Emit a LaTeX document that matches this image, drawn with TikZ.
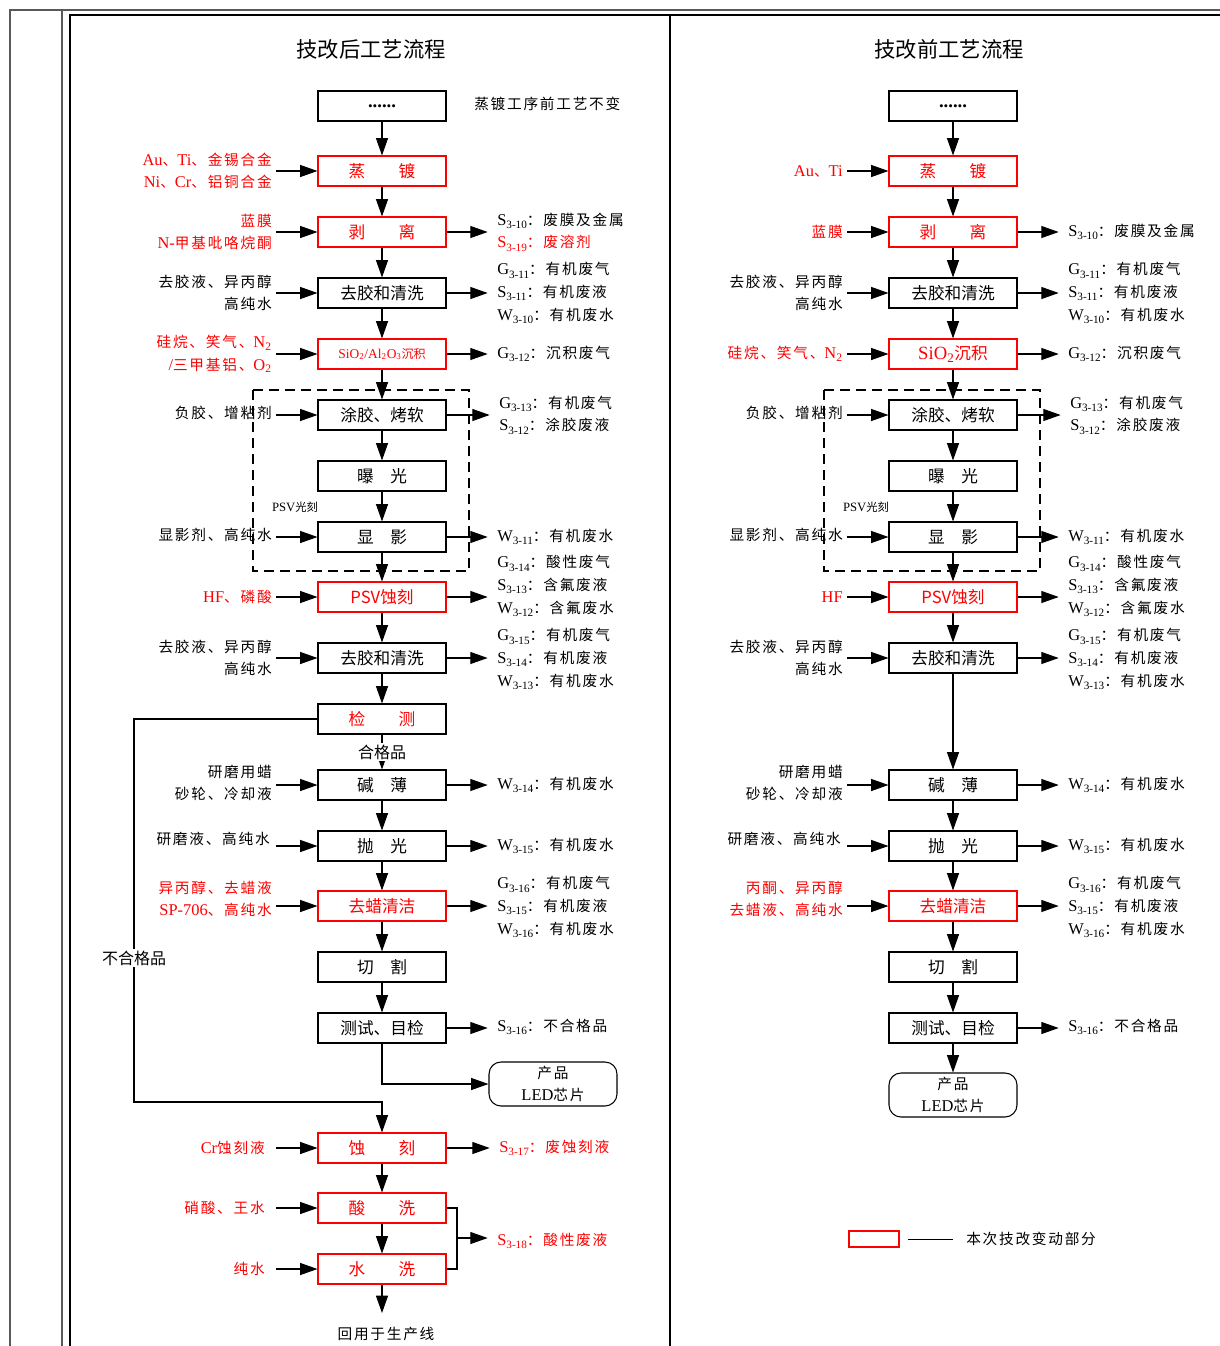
\documentclass[tikz,border=0pt]{standalone}
\usepackage{fontspec}
\setmainfont{Noto Sans CJK SC}
\newfontfamily\lblfont[LetterSpace=12]{Noto Sans CJK SC}
\newfontfamily\tmfont[Scale=1.12]{Liberation Serif}
\usetikzlibrary{arrows.meta}
\newcommand\tm[1]{{\tmfont #1}}
\newcommand\sbx[2]{{\tmfont #1\raisebox{-0.45ex}{\fontsize{7.5}{8}\selectfont #2}}}
\tikzset{
 box/.style={draw, line width=0.8pt, minimum width=96pt, minimum height=22.5pt, inner sep=0pt, font=\fontsize{12.5}{14}\selectfont},
 rbox/.style={box, draw=red, text=red},
 lab/.style={font=\lblfont\fontsize{11}{17}\selectfont, inner sep=0pt, align=right, anchor=east},
 olab/.style={font=\lblfont\fontsize{11}{17}\selectfont, inner sep=0pt, align=left, anchor=west},
 arr/.style={-{Triangle[length=13pt,width=9pt]}, line width=0.8pt},
 ttl/.style={font=\fontsize{16}{18}\selectfont},
 small/.style={font=\fontsize{8.5}{10}\selectfont, inner sep=0pt},
 dbox/.style={dashed, dash pattern=on 7.5pt off 4.5pt, line width=0.8pt},
 prod/.style={draw, rounded corners=9pt, line width=0.8pt, minimum width=96pt, minimum height=33pt, inner sep=0pt, align=center, font=\lblfont\fontsize{11}{17}\selectfont},
}
\begin{document}
\begin{tikzpicture}[x=0.75pt,y=-0.75pt]
\useasboundingbox (0,0) rectangle (1220,1346);
% frame
\draw[line width=1.1pt, gray!70!black] (10,1346) -- (10,10) -- (1220,10);
\draw[line width=1.1pt, gray!70!black] (62,10) -- (62,1346);
\draw[line width=2.2pt] (70,1346) -- (70,15) -- (1220,15);
\draw[line width=2.2pt] (670,15) -- (670,1346);

%================ LEFT =================
\node[ttl] (tL) at (371,49) {技改后工艺流程};
\draw[dbox] (253,390) rectangle (469,571);
\node[small] (psvL) at (295,507) {\tm{PSV}光刻};

\node[box] (L0) at (382,106) {{\tmfont\textbf{......}}};
\node[olab] (nL0) at (474,104) {蒸镀工序前工艺不变};

\node[rbox] (L1) at (382,171) {蒸\hspace{2em}镀};
\node[rbox] (L2) at (382,232) {剥\hspace{2em}离};
\node[box] (L3) at (382,293) {去胶和清洗};
\node[rbox, font=\fontsize{9}{11}\selectfont] (L4) at (382,354) {{\tmfont SiO\textsubscript{2}/Al\textsubscript{2}O\textsubscript{3}}沉积};
\node[box] (L5) at (382,415) {涂胶、烤软};
\node[box] (L6) at (382,476) {曝\hspace{1em}光};
\node[box] (L7) at (382,537) {显\hspace{1em}影};
\node[rbox] (L8) at (382,597) {PSV蚀刻};
\node[box] (L9) at (382,658) {去胶和清洗};
\node[box, text=red] (L11) at (382,719) {检\hspace{2em}测};
\node[box] (L12) at (382,785) {碱\hspace{1em}薄};
\node[box] (L13) at (382,846) {抛\hspace{1em}光};
\node[rbox] (L14) at (382,906) {去蜡清洁};
\node[box] (L15) at (382,967) {切\hspace{1em}割};
\node[box] (L16) at (382,1028) {测试、目检};
\node[prod] (P1) at (553,1084) {产品\\\tm{LED}芯片};
\node[rbox] (L18) at (382,1148) {蚀\hspace{2em}刻};
\node[rbox] (L19) at (382,1208) {酸\hspace{2em}洗};
\node[rbox] (L20) at (382,1269) {水\hspace{2em}洗};
\node[font=\lblfont\fontsize{11}{13}\selectfont] (endL) at (386,1334) {回用于生产线};

% main flow
\draw[arr] (L0) -- (L1);
\draw[arr] (L1) -- (L2);
\draw[arr] (L2) -- (L3);
\draw[arr] (L3) -- (L4);
\draw[arr] (L4) -- (L5);
\draw[arr] (L5) -- (L6);
\draw[arr] (L6) -- (L7);
\draw[arr] (L7) -- (L8);
\draw[arr] (L8) -- (L9);
\draw[arr] (L9) -- (L11);
\draw[arr] (L11) -- (L12);
\node[fill=white, inner sep=1pt, font=\fontsize{12}{14}\selectfont] (ok) at (382,752) {合格品};
\draw[arr] (L12) -- (L13);
\draw[arr] (L13) -- (L14);
\draw[arr] (L14) -- (L15);
\draw[arr] (L15) -- (L16);
\draw[arr] (L16.south) |- (P1.west);
\coordinate (cA) at (134,719);
\coordinate (cB) at (134,1102);
\coordinate (cC) at (382,1102);
\draw[arr] (L11.west) -- (cA) -- (cB) -- (cC) -- (L18.north);
\node[fill=white, inner sep=1pt, font=\fontsize{12}{14}\selectfont] (ng) at (134,958) {不合格品};
\draw[arr] (L18) -- (L19);
\draw[arr] (L19) -- (L20);
\coordinate (eL) at (382,1313);
\draw[arr] (L20) -- (eL);

% inputs left
\node[lab, text=red] (iL1) at (272,171) {\tm{Au}、\tm{Ti}、金锡合金\\\tm{Ni}、\tm{Cr}、铝铜合金};
\node[lab, text=red] (iL2) at (272,232) {蓝膜\\\tm{N-}甲基吡咯烷酮};
\node[lab] (iL3) at (272,293) {去胶液、异丙醇\\高纯水};
\node[lab, text=red] (iL4) at (272,354) {硅烷、笑气、\tm{N\textsubscript{2}}\\\tm{/}三甲基铝、\tm{O\textsubscript{2}}};
\node[lab] (iL5) at (272,413) {负胶、增粘剂};
\node[lab] (iL7) at (272,535) {显影剂、高纯水};
\node[lab, text=red] (iL8) at (272,597) {\tm{HF}、磷酸};
\node[lab] (iL9) at (272,658) {去胶液、异丙醇\\高纯水};
\node[lab] (iL12) at (272,783) {研磨用蜡\\砂轮、冷却液};
\node[lab] (iL13) at (270,839) {研磨液、高纯水};
\node[lab, text=red] (iL14) at (272,899) {异丙醇、去蜡液\\\tm{SP-706}、高纯水};
\node[lab, text=red] (iL18) at (265,1148) {\tm{Cr}蚀刻液};
\node[lab, text=red] (iL19) at (265,1208) {硝酸、王水};
\node[lab, text=red] (iL20) at (265,1269) {纯水};
\foreach \i in {1,2,3,4,5,7,8,9,12,14} \draw[arr] ([xshift=3pt]iL\i.east |- L\i.west) -- (L\i.west);
\draw[arr] ([xshift=4.5pt]iL13.east |- L13.west) -- (L13.west);
\foreach \i in {18,19,20} \draw[arr] ([xshift=8pt]iL\i.east) -- (L\i.west);

% outputs left
\node[olab] (oL2) at (497,232) {\sbx{S}{3-10}：废膜及金属\\\textcolor{red}{\sbx{S}{3-19}：废溶剂}};
\node[olab] (oL3) at (497,293) {\sbx{G}{3-11}：有机废气\\\sbx{S}{3-11}：有机废液\\\sbx{W}{3-10}：有机废水};
\node[olab] (oL4) at (497,354) {\sbx{G}{3-12}：沉积废气};
\node[olab] (oL5) at (499,415) {\sbx{G}{3-13}：有机废气\\\sbx{S}{3-12}：涂胶废液};
\node[olab] (oL7) at (497,537) {\sbx{W}{3-11}：有机废水};
\node[olab] (oL8) at (497,586) {\sbx{G}{3-14}：酸性废气\\\sbx{S}{3-13}：含氟废液\\\sbx{W}{3-12}：含氟废水};
\node[olab] (oL9) at (497,659) {\sbx{G}{3-15}：有机废气\\\sbx{S}{3-14}：有机废液\\\sbx{W}{3-13}：有机废水};
\node[olab] (oL12) at (497,785) {\sbx{W}{3-14}：有机废水};
\node[olab] (oL13) at (497,846) {\sbx{W}{3-15}：有机废水};
\node[olab] (oL14) at (497,907) {\sbx{G}{3-16}：有机废气\\\sbx{S}{3-15}：有机废液\\\sbx{W}{3-16}：有机废水};
\node[olab] (oL16) at (497,1027) {\sbx{S}{3-16}：不合格品};
\node[olab, text=red] (oL18) at (499,1148) {\sbx{S}{3-17}：废蚀刻液};
\node[olab, text=red] (oL19) at (497,1241) {\sbx{S}{3-18}：酸性废液};
\foreach \i in {2,3,4,5,7,8,9,12,13,14,16,18} \draw[arr] (L\i.east) -- ([xshift=-7pt]L\i.east -| oL\i.west);
\coordinate (bA) at (457,1208);
\coordinate (bB) at (457,1269);
\coordinate (bM) at (457,1238);
\draw[line width=0.8pt] (L19.east) -- (bA) -- (bB) -- (L20.east);
\draw[arr] (bM) -- ([xshift=-7pt]bM -| oL19.west);

%================ RIGHT =================
\node[ttl] (tR) at (949,49) {技改前工艺流程};
\draw[dbox] (824,390) rectangle (1040,571);
\node[small] (psvR) at (866,507) {\tm{PSV}光刻};

\node[box] (R0) at (953,106) {{\tmfont\textbf{......}}};
\node[rbox] (R1) at (953,171) {蒸\hspace{2em}镀};
\node[rbox] (R2) at (953,232) {剥\hspace{2em}离};
\node[box] (R3) at (953,293) {去胶和清洗};
\node[rbox] (R4) at (953,354) {{\tmfont SiO\textsubscript{2}}沉积};
\node[box] (R5) at (953,415) {涂胶、烤软};
\node[box] (R6) at (953,476) {曝\hspace{1em}光};
\node[box] (R7) at (953,537) {显\hspace{1em}影};
\node[rbox] (R8) at (953,597) {PSV蚀刻};
\node[box] (R9) at (953,658) {去胶和清洗};
\node[box] (R12) at (953,785) {碱\hspace{1em}薄};
\node[box] (R13) at (953,846) {抛\hspace{1em}光};
\node[rbox] (R14) at (953,906) {去蜡清洁};
\node[box] (R15) at (953,967) {切\hspace{1em}割};
\node[box] (R16) at (953,1028) {测试、目检};
\node[prod] (P2) at (953,1095) {产品\\\tm{LED}芯片};

\draw[arr] (R0) -- (R1);
\draw[arr] (R1) -- (R2);
\draw[arr] (R2) -- (R3);
\draw[arr] (R3) -- (R4);
\draw[arr] (R4) -- (R5);
\draw[arr] (R5) -- (R6);
\draw[arr] (R6) -- (R7);
\draw[arr] (R7) -- (R8);
\draw[arr] (R8) -- (R9);
\draw[arr] (R9) -- (R12);
\draw[arr] (R12) -- (R13);
\draw[arr] (R13) -- (R14);
\draw[arr] (R14) -- (R15);
\draw[arr] (R15) -- (R16);
\draw[arr] (R16) -- (P2);

\node[lab, text=red] (iR1) at (843,171) {\tm{Au}、\tm{Ti}};
\node[lab, text=red] (iR2) at (843,232) {蓝膜};
\node[lab] (iR3) at (843,293) {去胶液、异丙醇\\高纯水};
\node[lab, text=red] (iR4) at (843,354) {硅烷、笑气、\tm{N\textsubscript{2}}};
\node[lab] (iR5) at (843,413) {负胶、增粘剂};
\node[lab] (iR7) at (843,535) {显影剂、高纯水};
\node[lab, text=red] (iR8) at (843,597) {\tm{HF}};
\node[lab] (iR9) at (843,658) {去胶液、异丙醇\\高纯水};
\node[lab] (iR12) at (843,783) {研磨用蜡\\砂轮、冷却液};
\node[lab] (iR13) at (841,839) {研磨液、高纯水};
\node[lab, text=red] (iR14) at (843,899) {丙酮、异丙醇\\去蜡液、高纯水};
\foreach \i in {1,2,3,4,5,7,8,9,12,14} \draw[arr] ([xshift=3pt]iR\i.east |- R\i.west) -- (R\i.west);
\draw[arr] ([xshift=4.5pt]iR13.east |- R13.west) -- (R13.west);

\node[olab] (oR2) at (1068,232) {\sbx{S}{3-10}：废膜及金属};
\node[olab] (oR3) at (1068,293) {\sbx{G}{3-11}：有机废气\\\sbx{S}{3-11}：有机废液\\\sbx{W}{3-10}：有机废水};
\node[olab] (oR4) at (1068,354) {\sbx{G}{3-12}：沉积废气};
\node[olab] (oR5) at (1070,415) {\sbx{G}{3-13}：有机废气\\\sbx{S}{3-12}：涂胶废液};
\node[olab] (oR7) at (1068,537) {\sbx{W}{3-11}：有机废水};
\node[olab] (oR8) at (1068,586) {\sbx{G}{3-14}：酸性废气\\\sbx{S}{3-13}：含氟废液\\\sbx{W}{3-12}：含氟废水};
\node[olab] (oR9) at (1068,659) {\sbx{G}{3-15}：有机废气\\\sbx{S}{3-14}：有机废液\\\sbx{W}{3-13}：有机废水};
\node[olab] (oR12) at (1068,785) {\sbx{W}{3-14}：有机废水};
\node[olab] (oR13) at (1068,846) {\sbx{W}{3-15}：有机废水};
\node[olab] (oR14) at (1068,907) {\sbx{G}{3-16}：有机废气\\\sbx{S}{3-15}：有机废液\\\sbx{W}{3-16}：有机废水};
\node[olab] (oR16) at (1068,1027) {\sbx{S}{3-16}：不合格品};
\foreach \i in {2,3,4,5,7,8,9,12,13,14,16} \draw[arr] (R\i.east) -- ([xshift=-7pt]R\i.east -| oR\i.west);

% legend
\node[draw=red, line width=0.8pt, minimum width=37.5pt, minimum height=12pt, inner sep=0pt] (lg) at (874,1239) {};
\coordinate (lgE) at (953,1239);
\draw[line width=0.6pt] ([xshift=6pt]lg.east) -- (lgE);
\node[olab] (lgT) at (966,1239) {本次技改变动部分};
\end{tikzpicture}
\end{document}
